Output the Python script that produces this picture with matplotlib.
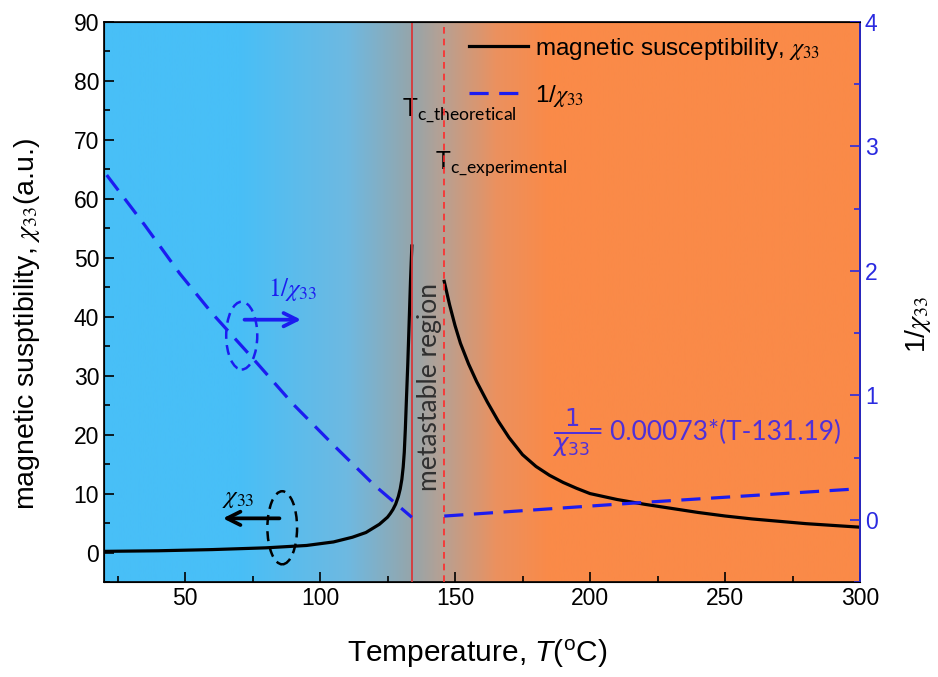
import numpy as np
import matplotlib
matplotlib.use("Agg")
from matplotlib import pyplot as plt
from matplotlib.patches import Ellipse
from matplotlib.ticker import MultipleLocator

plt.rcParams["font.family"] = ["Liberation Sans", "DejaVu Sans"]
plt.rcParams["mathtext.fontset"] = "custom"
plt.rcParams["mathtext.rm"] = "Liberation Sans"
plt.rcParams["mathtext.it"] = "Liberation Sans:italic"
plt.rcParams["mathtext.sf"] = "Lato"

# chi_33 below the theoretical Tc (left axis)
T_low = [20, 40, 60, 80, 95, 105, 112, 117, 122, 125, 126, 127, 128, 129, 129.7, 130.3,
         130.8, 131.2, 131.6, 132, 132.5, 133, 133.5, 134]
chi_low = [0.2, 0.3, 0.5, 0.8, 1.2, 1.8, 2.6, 3.4, 4.8, 6.0, 6.6, 7.3, 8.2, 9.5, 10.8, 12.4,
           14.5, 17, 21, 26, 32, 39, 46, 52]
# chi_33 above the experimental Tc
T_high = [146, 148, 150, 152, 155, 158, 162, 166, 170, 175, 180, 185, 190, 195, 200,
          210, 220, 230, 240, 250, 260, 270, 280, 290, 300]
chi_high = [46, 42, 38.5, 35.5, 32, 29, 25.5, 22.3, 19.5, 16.6, 14.6, 13.1, 11.9, 10.9, 10.0,
            9.0, 8.2, 7.5, 6.8, 6.2, 5.7, 5.3, 4.9, 4.6, 4.3]
# 1/chi_33 (right axis)
T_inv_low = [21, 35, 48, 60, 75, 90, 105, 120, 134]
inv_low = [2.77, 2.37, 1.98, 1.66, 1.30, 0.93, 0.60, 0.28, 0.02]
T_inv_high = [146, 220, 300]
inv_high = [0.03, 0.14, 0.25]

Tc_theo = 134
Tc_exp = 146

blue = "#1c1cf0"
axblue = "#2a2ae0"
purple = "#5030d8"

fig = plt.figure(figsize=(9.38, 6.77), dpi=100)
ax = fig.add_axes([0.1109, 0.1403, 0.806, 0.8272])

# background: blue -> grey -> orange
stops_T = [20, 70, 110, 134, 146, 165, 185, 300]
stops_c = np.array([(72, 191, 247), (72, 191, 247), (110, 185, 225), (150, 165, 170),
                    (185, 160, 145), (235, 145, 95), (250, 138, 72), (250, 138, 72)]) / 255
tt = np.linspace(20, 300, 800)
grad = np.stack([np.interp(tt, stops_T, stops_c[:, k]) for k in range(3)], axis=-1)
ax.imshow(grad[np.newaxis, :, :], extent=[20, 300, -5, 90], aspect="auto", zorder=0)

l1, = ax.plot(T_low, chi_low, color="black", lw=2.3, zorder=3,
              label=r"magnetic susceptibility, $\chi_{33}$")
ax.plot(T_high, chi_high, color="black", lw=2.3, zorder=3)
ax.axvline(Tc_theo, color="#d8383a", lw=1.3, zorder=4)
ax.axvline(Tc_exp, color="#ff2a2a", lw=1.2, ls=(0, (4, 3)), zorder=4)

ax.set_xlim(20, 300)
ax.set_ylim(-5, 90)
ax.xaxis.set_major_locator(MultipleLocator(50))
ax.xaxis.set_minor_locator(MultipleLocator(25))
ax.yaxis.set_major_locator(MultipleLocator(10))
ax.yaxis.set_minor_locator(MultipleLocator(5))
ax.tick_params(which="both", direction="in", labelsize=16.5, top=False, right=False)
ax.tick_params(which="major", length=7, width=1.2)
ax.tick_params(which="minor", length=4, width=1.2)
ax.set_xlabel(r"Temperature, $\mathit{T}$($^{\mathrm{o}}$C)", fontsize=21.5)
ax.set_ylabel(r"magnetic susptibility, $\chi_{33}$(a.u.)", fontsize=20.5, math_fontfamily="stix")
ax.xaxis.set_label_coords(0.494, -0.10)
ax.yaxis.set_label_coords(-0.082, 0.46)
for s in ax.spines.values():
    s.set_linewidth(1.2)

ax2 = ax.twinx()
l2, = ax2.plot(T_inv_low, inv_low, color=blue, lw=2.3, ls=(0, (6, 3.3)), zorder=3, label=r"1/$\chi_{33}$")
ax2.plot(T_inv_high, inv_high, color=blue, lw=2.3, ls=(0, (6, 3.3)), zorder=3)
ax2.set_ylim(-0.5, 4)
ax2.yaxis.set_major_locator(MultipleLocator(1))
ax2.yaxis.set_minor_locator(MultipleLocator(0.5))
ax2.tick_params(which="both", direction="in", labelsize=16.5, colors=axblue)
ax2.tick_params(which="major", length=7, width=1.2)
ax2.tick_params(which="minor", length=4, width=1.2)
ax2.spines["right"].set_color(axblue)
ax2.spines["right"].set_linewidth(1.2)
ax2.set_ylabel(r"1/$\chi_{33}$", fontsize=20.5, color="black", math_fontfamily="stix")
ax2.yaxis.set_label_coords(1.057, 0.46)

leg = ax2.legend(handles=[l1, l2], loc="upper left", bbox_to_anchor=(0.483, 0.975),
                 frameon=False, fontsize=17.5, handlelength=2.4, labelspacing=0.85,
                 borderpad=0, borderaxespad=0, handletextpad=0.3)
for t in leg.get_texts():
    t.set_math_fontfamily("stix")

# Tc labels
tfont = ["Lato", "DejaVu Sans"]
ax.text(130.5, 74.1, r"T$_{\mathsf{c\_theoretical}}$", fontsize=18, family=tfont,
        va="baseline", math_fontfamily="custom")
ax.text(142.5, 64.9, r"T$_{\mathsf{c\_experimental}}$", fontsize=18, family=tfont,
        va="baseline", math_fontfamily="custom")
ax.text(140.7, 28, "metastable region", fontsize=19, family=tfont, color="#303030",
        rotation=90, ha="center", va="center")

# formula
ax.text(193.3, 20.3, r"$\frac{1}{\chi_{33}}$", fontsize=25, color=purple,
        ha="center", va="center", math_fontfamily="dejavusans")
ax.text(199.3, 20.3, "= 0.00073*(T-131.19)", fontsize=19, family=tfont, color=purple,
        ha="left", va="center")

# ellipses and arrows marking which axis each curve belongs to
ax.add_patch(Ellipse((71, 36.8), 11.5, 11.5, fill=False, ec=blue, lw=1.8, ls=(0, (4, 2.5)), zorder=5))
ax.annotate("", xy=(94, 39.5), xytext=(71, 39.5),
            arrowprops=dict(arrowstyle="->", color=blue, lw=2.7, mutation_scale=24), zorder=5)
ax.text(90, 44.6, r"$1/\chi_{33}$", fontsize=18, color=blue, ha="center", va="center",
        math_fontfamily="stix")
ax.add_patch(Ellipse((86, 4.2), 11, 12.4, fill=False, ec="black", lw=1.8, ls=(0, (4, 2.5)), zorder=5))
ax.annotate("", xy=(63, 5.8), xytext=(86, 5.8),
            arrowprops=dict(arrowstyle="->", color="black", lw=2.7, mutation_scale=24), zorder=5)
ax.text(69.6, 9.3, r"$\chi_{33}$", fontsize=18, color="black", ha="center", va="center",
        math_fontfamily="stix")

plt.savefig("out.png", dpi=100)
plt.close()
